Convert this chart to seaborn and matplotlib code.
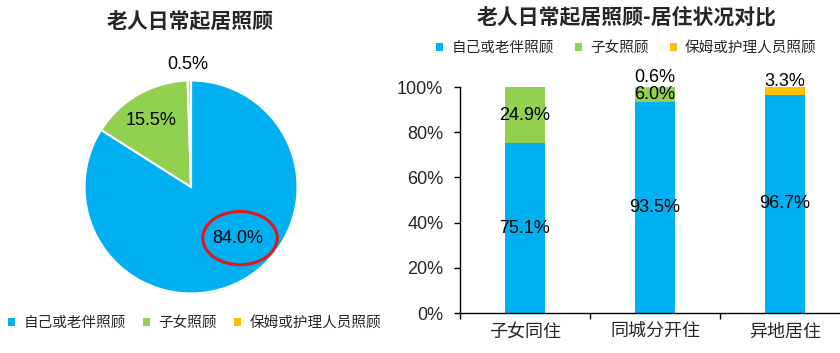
import matplotlib
matplotlib.use("Agg")
import matplotlib.pyplot as plt
from matplotlib.patches import Ellipse, Patch
import seaborn as sns
import pandas as pd
import numpy as np

# data
care_types = ["自己或老伴照顾", "子女照顾", "保姆或护理人员照顾"]
pie_values = [84.0, 15.5, 0.5]
living = ["子女同住", "同城分开住", "异地居住"]
self_care = [75.1, 93.5, 96.7]
child_care = [24.9, 6.0, 0.0]
nanny_care = [0.0, 0.6, 3.3]
yticks = [0, 20, 40, 60, 80, 100]

colors = ["#00B0F0", "#92D050", "#FFC000"]

sns.set_theme(style="white")
plt.rcParams['font.family'] = ['Liberation Sans', 'Noto Sans CJK SC', 'DejaVu Sans']
cjk = ['Noto Sans CJK SC', 'DejaVu Sans']

fig = plt.figure(figsize=(8.4, 3.53), dpi=100)

# ---- pie ----
ax1 = fig.add_axes([0.1006, 0.1686, 0.2536, 0.6034])
wedges, texts, autotexts = ax1.pie(pie_values, colors=colors, startangle=90, counterclock=False,
                                   autopct='%.1f%%', radius=1,
                                   wedgeprops=dict(edgecolor='white', linewidth=1.5),
                                   textprops=dict(fontsize=13, color='black'))
label_pos = [(0.44, -0.48), (-0.375, 0.62), (-0.03, 1.146)]
for t, p in zip(autotexts, label_pos):
    t.set_position(p)
ax1.set_xlim(-1, 1)
ax1.set_ylim(-1, 1)
ax1.set_aspect('equal')
ax1.add_patch(Ellipse((0.46, -0.48), 0.70, 0.50, fill=False, edgecolor='#E8141B', linewidth=2.2, clip_on=False))
ax1.axis('off')

handles = [Patch(facecolor=c, edgecolor='none') for c in colors]
fig.legend(handles, care_types, loc='center left', bbox_to_anchor=(0.0101, 0.085),
           bbox_transform=fig.transFigure, ncol=3, frameon=False, prop=dict(family=cjk, size=10.5),
           handlelength=0.48, handleheight=0.48, handletextpad=0.55, columnspacing=1.2,
           borderpad=0, borderaxespad=0)

fig.text(190 / 840, 1 - 22 / 353, "老人日常起居照顾", ha='center', va='center',
         fontsize=15, fontweight='bold', family=cjk)

# ---- stacked bars ----
ax2 = fig.add_axes([0.5476, 0.1133, 0.4643, 0.640])
df = pd.DataFrame({"living": living, "self": self_care, "child": child_care, "nanny": nanny_care})
df["c1"] = df["self"] / 100
df["c2"] = (df["self"] + df["child"]) / 100
df["c3"] = (df["self"] + df["child"] + df["nanny"]) / 100
for col, c in zip(["c3", "c2", "c1"], colors[::-1]):
    sns.barplot(data=df, x="living", y=col, color=c, width=0.31, ax=ax2, saturation=1, linewidth=0)

bottoms = np.zeros(len(living))
for vals, key in zip([self_care, child_care, nanny_care], ["self", "child", "nanny"]):
    for i, v in enumerate(vals):
        if v > 0:
            y = (bottoms[i] + v / 2) / 100
            off = 0
            if key == "nanny":
                off = 7 if v < 1 else 6.5
            ax2.annotate(f"{v:.1f}%", (i, y), xytext=(0, off), textcoords='offset points',
                         ha='center', va='center', fontsize=13, color='black')
    bottoms += np.array(vals)

ax2.set_xlim(-0.5, 2.5)
ax2.set_ylim(0, 1)
ax2.set_yticks([t / 100 for t in yticks])
ax2.set_yticklabels([f"{t}%" for t in yticks], fontsize=13)
ax2.set_xticks(range(len(living)))
ax2.set_xticklabels(living, fontsize=13, family=cjk)
ax2.set_xticks([-0.5, 0.5, 1.5, 2.5], minor=True)
ax2.tick_params(axis='x', which='major', length=0, pad=7)
ax2.tick_params(axis='x', which='minor', length=4, width=1, direction='out', color='black', bottom=True)
ax2.tick_params(axis='y', length=4, width=1, direction='out', color='black', left=True, pad=8)
ax2.set_xlabel("")
ax2.set_ylabel("")
for s in ["top", "right"]:
    ax2.spines[s].set_visible(False)
for s in ["left", "bottom"]:
    ax2.spines[s].set_color('black')
    ax2.spines[s].set_linewidth(1)

fig.legend(handles, care_types, loc='center left', bbox_to_anchor=(0.5196, 0.864),
           bbox_transform=fig.transFigure, ncol=3, frameon=False, prop=dict(family=cjk, size=10.5),
           handlelength=0.48, handleheight=0.48, handletextpad=0.55, columnspacing=1.45,
           borderpad=0, borderaxespad=0)

fig.text(627 / 840, 1 - 17 / 353, "老人日常起居照顾-居住状况对比", ha='center', va='center',
         fontsize=15, fontweight='bold', family=cjk)

fig.savefig("out.png", dpi=100)
